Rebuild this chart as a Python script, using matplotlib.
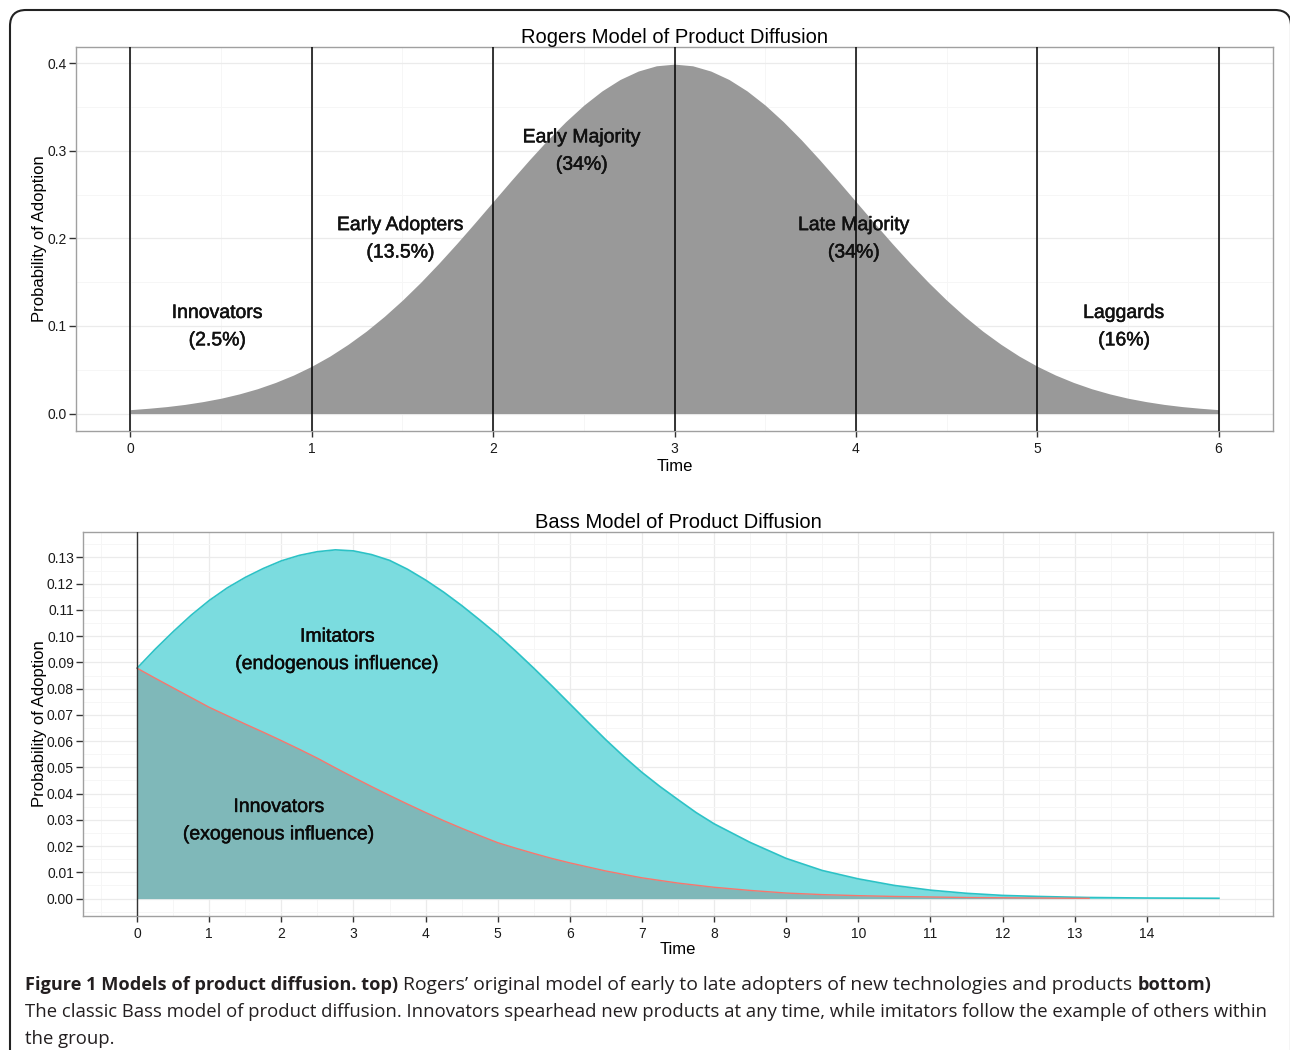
"""
Rogers and Bass models of product diffusion, two stacked panels with a caption.
"""
import matplotlib.pyplot as plt
import matplotlib.patheffects as pe
from matplotlib.patches import FancyBboxPatch
from matplotlib.ticker import MultipleLocator, FormatStrFormatter
from matplotlib.transforms import IdentityTransform

plt.rcParams["font.family"] = ["Liberation Sans", "DejaVu Sans"]

# --- Rogers model (top) ---------------------------------------------------
rogers_time = [i / 10 for i in range(61)]
rogers_density = [
    0.0044, 0.0060, 0.0079, 0.0104, 0.0136, 0.0175, 0.0224, 0.0283, 0.0355, 0.0440,
    0.0540, 0.0656, 0.0790, 0.0940, 0.1109, 0.1295, 0.1497, 0.1714, 0.1942, 0.2179,
    0.2420, 0.2661, 0.2897, 0.3123, 0.3332, 0.3521, 0.3683, 0.3814, 0.3910, 0.3970,
    0.3989,
    0.3970, 0.3910, 0.3814, 0.3683, 0.3521, 0.3332, 0.3123, 0.2897, 0.2661, 0.2420,
    0.2179, 0.1942, 0.1714, 0.1497, 0.1295, 0.1109, 0.0940, 0.0790, 0.0656, 0.0540,
    0.0440, 0.0355, 0.0283, 0.0224, 0.0175, 0.0136, 0.0104, 0.0079, 0.0060, 0.0044,
]
rogers_bounds = [0, 1, 2, 3, 4, 5, 6]
rogers_groups = [
    "Innovators\n(2.5%)",
    "Early Adopters\n(13.5%)",
    "Early Majority\n(34%)",
    "Late Majority\n(34%)",
    "Laggards\n(16%)",
]
rogers_label_xy = [(0.48, 0.0986), (1.49, 0.1989), (2.49, 0.2991), (3.99, 0.1989), (5.48, 0.0986)]

# --- Bass model (bottom) --------------------------------------------------
bass_time = [0, 0.25, 0.5, 0.75, 1, 1.25, 1.5, 1.75, 2, 2.25, 2.5, 2.75, 3, 3.25,
             3.5, 3.75, 4, 4.25, 4.5, 4.75, 5, 5.25, 5.5, 5.75, 6, 6.25, 6.5, 6.75,
             7, 7.25, 7.5, 7.75, 8, 8.5, 9, 9.5, 10, 10.5, 11, 11.5, 12, 12.5, 13,
             13.2, 14, 15]
bass_total = [0.0878, 0.0950, 0.1017, 0.1080, 0.1136, 0.1184, 0.1224, 0.1258,
              0.1287, 0.1308, 0.1322, 0.1329, 0.1325, 0.1311, 0.1289, 0.1255,
              0.1214, 0.1168, 0.1117, 0.1062, 0.1005, 0.0943, 0.0878, 0.0811,
              0.0742, 0.0673, 0.0605, 0.0541, 0.0481, 0.0427, 0.0377, 0.0328,
              0.0285, 0.0214, 0.0153, 0.0107, 0.0075, 0.0050, 0.0032, 0.0020,
              0.0012, 0.0008, 0.0005, 0.0004, 0.0002, 0.0001]
innov_time = [0, 0.25, 0.5, 0.75, 1, 1.25, 1.5, 1.75, 2, 2.25, 2.5, 2.75, 3, 3.25,
              3.5, 3.75, 4, 4.25, 4.5, 4.75, 5, 5.25, 5.5, 5.75, 6, 6.5, 7, 7.5,
              8, 8.5, 9, 9.5, 10, 10.5, 11, 11.5, 12, 12.5, 13, 13.2]
innov_density = [0.0878, 0.0840, 0.0803, 0.0766, 0.0729, 0.0697, 0.0665, 0.0634,
                 0.0602, 0.0569, 0.0535, 0.0498, 0.0462, 0.0427, 0.0393, 0.0360,
                 0.0328, 0.0297, 0.0268, 0.0240, 0.0213, 0.0192, 0.0172, 0.0153,
                 0.0136, 0.0105, 0.0079, 0.0059, 0.0043, 0.0031, 0.0021, 0.0015,
                 0.0011, 0.0008, 0.0006, 0.0004, 0.0003, 0.0002, 0.0001, 0.0001]
bass_groups = ["Imitators\n(endogenous influence)", "Innovators\n(exogenous influence)"]
bass_label_xy = [(2.78, 0.0944), (1.97, 0.0295)]

W, H = 1290, 1050
label_fx = [pe.withStroke(linewidth=0.35, foreground="#111111")]


def style_axes(ax):
    ax.set_axisbelow(True)
    ax.grid(which="major", color="#EBEBEB", linewidth=0.9)
    ax.grid(which="minor", color="#F6F6F6", linewidth=0.7)
    for spine in ax.spines.values():
        spine.set_color("#A0A0A0")
        spine.set_linewidth(1.0)
    ax.tick_params(which="minor", length=0)
    ax.tick_params(axis="y", which="major", length=5, width=1, pad=1.5,
                   color="#333333", labelsize=10, labelcolor="#1a1a1a")
    ax.tick_params(axis="x", which="major", length=4, width=1, pad=4,
                   color="#333333", labelsize=10, labelcolor="#1a1a1a")


fig = plt.figure(figsize=(W / 100, H / 100), dpi=100)

# outer rounded frame
frame = FancyBboxPatch((10, -30), 1281, 1070, boxstyle="round,pad=0,rounding_size=16",
                       transform=IdentityTransform(), fill=False,
                       edgecolor="#222222", linewidth=1.5)
fig.add_artist(frame)

# top panel
ax1 = fig.add_axes([76 / W, 1 - 431 / H, (1273 - 76) / W, (431 - 46.7) / H])
ax1.fill_between(rogers_time, rogers_density, 0, color="#999999", linewidth=0)
for b in rogers_bounds:
    ax1.axvline(b, color="black", linewidth=1.1, zorder=3)
for text, (x, y) in zip(rogers_groups, rogers_label_xy):
    ax1.text(x, y, text, ha="center", va="center", fontsize=14, linespacing=1.8,
             color="#111111", zorder=4, path_effects=label_fx)
ax1.set_xlim(-0.3, 6.3)
ax1.set_ylim(-0.01995, 0.4188)
ax1.set_xticks(rogers_bounds)
ax1.xaxis.set_minor_locator(MultipleLocator(0.5))
ax1.yaxis.set_major_locator(MultipleLocator(0.1))
ax1.yaxis.set_minor_locator(MultipleLocator(0.05))
ax1.yaxis.set_major_formatter(FormatStrFormatter("%.1f"))
style_axes(ax1)
ax1.set_title("Rogers Model of Product Diffusion", fontsize=14.5, pad=1.5)
ax1.set_xlabel("Time", fontsize=12)
ax1.set_ylabel("Probability of Adoption", fontsize=12)
ax1.xaxis.set_label_coords(0.5, -0.074)
ax1.yaxis.set_label_coords(-0.0245, 0.5)

# bottom panel
ax2 = fig.add_axes([83 / W, 1 - 916 / H, (1273 - 83) / W, (916 - 532) / H])
ax2.fill_between(bass_time, bass_total, 0, color="#7BDCDF", linewidth=0)
ax2.plot(bass_time, bass_total, color="#2CC2C6", linewidth=1.2)
ax2.fill_between(innov_time, innov_density, 0, color="#7FB8B9", linewidth=0, zorder=2.1)
ax2.plot(innov_time, innov_density, color="#F8766D", linewidth=1.0, zorder=2.2)
ax2.axvline(0, color="#333333", linewidth=1.0, zorder=3)
for text, (x, y) in zip(bass_groups, bass_label_xy):
    ax2.text(x, y, text, ha="center", va="center", fontsize=14, linespacing=1.8,
             color="#0a0a0a", zorder=4, path_effects=label_fx)
ax2.set_xlim(-0.75, 15.75)
ax2.set_ylim(-0.00665, 0.1397)
ax2.set_xticks(range(15))
ax2.xaxis.set_minor_locator(MultipleLocator(0.5))
ax2.yaxis.set_major_locator(MultipleLocator(0.01))
ax2.yaxis.set_minor_locator(MultipleLocator(0.005))
ax2.yaxis.set_major_formatter(FormatStrFormatter("%.2f"))
style_axes(ax2)
ax2.set_title("Bass Model of Product Diffusion", fontsize=14.5, pad=1.0)
ax2.set_xlabel("Time", fontsize=12)
ax2.set_ylabel("Probability of Adoption", fontsize=12)
ax2.xaxis.set_label_coords(0.5, -0.069)
ax2.yaxis.set_label_coords(-0.0305, 0.5)

# caption
cap = fig.add_axes([0, 0, 1, 1], zorder=-1)
cap.set_axis_off()
cap_font = dict(family=["Open Sans", "DejaVu Sans"], color="#231F20")
t1 = cap.text(25 / W, 1 - 990 / H, "Figure 1 Models of product diffusion. top)",
              fontweight="bold", fontsize=13.1, va="baseline", **cap_font)
t2 = cap.annotate(" Rogers\u2019 original model of early to late adopters of new "
                  "technologies and products ", xy=(1, 0), xycoords=t1,
                  va="bottom", ha="left", fontsize=13.9, **cap_font)
cap.annotate("bottom)", xy=(1, 0), xycoords=t2, va="bottom", ha="left",
             fontweight="bold", fontsize=13.1, **cap_font)
cap.text(25 / W, 1 - 1017 / H,
         "The classic Bass model of product diffusion. Innovators spearhead new products "
         "at any time, while imitators follow the example of others within",
         va="baseline", fontsize=13.3, **cap_font)
cap.text(25 / W, 1 - 1044 / H, "the group.", va="baseline", fontsize=13.3, **cap_font)

fig.savefig("out.png", dpi=100)
